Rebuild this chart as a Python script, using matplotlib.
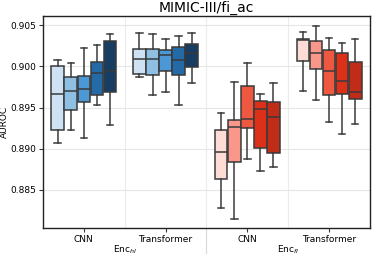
import matplotlib
matplotlib.use("Agg")
import matplotlib.pyplot as plt
import matplotlib.transforms as mtransforms

groups = ["CNN", "Transformer", "CNN", "Transformer"]
encoders = [r"Enc$_{hl}$", r"Enc$_{fl}$"]

# per group: 5 boxes, each (whislo, q1, med, q3, whishi)
stats = [
    [(0.89073, 0.89227, 0.89660, 0.90007, 0.90076),
     (0.89227, 0.89473, 0.89696, 0.89866, 0.90036),
     (0.89134, 0.89570, 0.89724, 0.89886, 0.90217),
     (0.89530, 0.89652, 0.89914, 0.90055, 0.90254),
     (0.89284, 0.89692, 0.89946, 0.90306, 0.90395)],
    [(0.89873, 0.89906, 0.90092, 0.90213, 0.90407),
     (0.89652, 0.89894, 0.90088, 0.90205, 0.90395),
     (0.89692, 0.89942, 0.90136, 0.90197, 0.90327),
     (0.89530, 0.89898, 0.90080, 0.90237, 0.90370),
     (0.89797, 0.89987, 0.90164, 0.90270, 0.90407)],
    [(0.88278, 0.88630, 0.88964, 0.89227, 0.89437),
     (0.88148, 0.88839, 0.89267, 0.89345, 0.89809),
     (0.88876, 0.89247, 0.89364, 0.89761, 0.90039),
     (0.88727, 0.89013, 0.89485, 0.89583, 0.89664),
     (0.88779, 0.88945, 0.89389, 0.89567, 0.89793)],
    [(0.89704, 0.90067, 0.90320, 0.90327, 0.90411),
     (0.89591, 0.89967, 0.90164, 0.90306, 0.90492),
     (0.89328, 0.89652, 0.89942, 0.90197, 0.90339),
     (0.89183, 0.89660, 0.89821, 0.90157, 0.90286),
     (0.89304, 0.89599, 0.89692, 0.90055, 0.90327)],
]

blues = ["#cfe2f3", "#8fc0e4", "#4b98d5", "#246aa6", "#173e62"]
reds = ["#fddcd6", "#f8978a", "#ee5840", "#dd3019", "#c02c17"]
palettes = [blues, blues, reds, reds]

fig = plt.figure(figsize=(3.74, 2.59), dpi=100)
ax = fig.add_axes([0.115, 0.12, 0.874, 0.818])

edge = "#3a3a3a"
n = 5
w = 0.8 / n
for g, boxes in enumerate(stats):
    for i, (lo, q1, med, q3, hi) in enumerate(boxes):
        pos = g - 0.4 + w * (i + 0.5)
        bs = [dict(whislo=lo, q1=q1, med=med, q3=q3, whishi=hi, fliers=[])]
        ax.bxp(bs, positions=[pos], widths=w * 0.97, patch_artist=True,
               showfliers=False, manage_ticks=False,
               boxprops=dict(facecolor=palettes[g][i], edgecolor=edge, linewidth=1.1),
               medianprops=dict(color=edge, linewidth=1.1),
               whiskerprops=dict(color=edge, linewidth=1.1),
               capprops=dict(color=edge, linewidth=1.1),
               capwidths=w * 0.5)

ax.set_xlim(-0.5, 3.5)
ax.set_ylim(0.8804, 0.9061)
ax.set_yticks([0.885, 0.890, 0.895, 0.900, 0.905])
ax.set_yticklabels(["0.885", "0.890", "0.895", "0.900", "0.905"])
ax.set_xticks(range(4))
ax.set_xticklabels(groups)
ax.set_xticks([0.5, 1.5, 2.5], minor=True)
ax.tick_params(which="minor", length=0)
ax.tick_params(labelsize=6.5, length=3, width=0.8, color=edge, pad=2)
ax.grid(True, axis="y", color="#e6e6e6", linewidth=0.8)
ax.grid(True, axis="x", which="minor", color="#ececec", linewidth=0.8)
ax.set_axisbelow(True)
for s in ax.spines.values():
    s.set_color("#222222")
    s.set_linewidth(1.0)

ax.set_ylabel("AUROC", fontsize=6.5, labelpad=1)
ax.set_title("MIMIC-III/fi_ac", fontsize=10, pad=3)

# encoder group labels and separator below the axis
trans = mtransforms.blended_transform_factory(ax.transData, ax.transAxes)
for k, name in enumerate(encoders):
    ax.text(2 * k + 0.5, -0.075, name, transform=trans, ha="center", va="top", fontsize=6.5)
ax.plot([1.5, 1.5], [0, -0.12], transform=trans, color="#d9d9d9", linewidth=0.8, clip_on=False)

fig.savefig("out.png", dpi=100)
